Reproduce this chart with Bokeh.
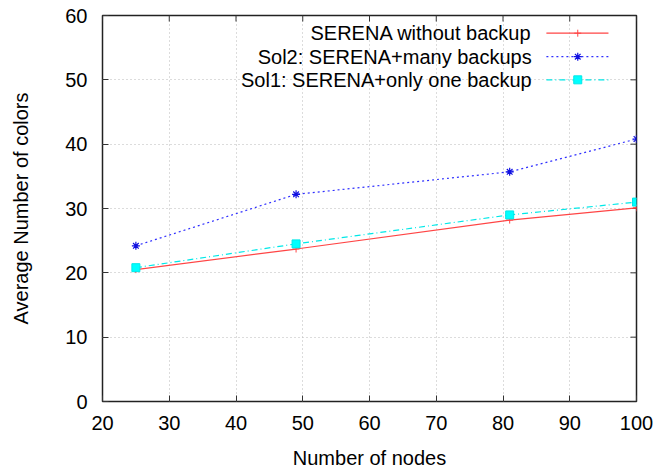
import math
from bokeh.plotting import figure
from bokeh.models import Range1d, FixedTicker
from bokeh.core.properties import value
from bokeh.embed import file_html
from bokeh.resources import INLINE

nodes = [25, 49, 81, 100]
serena = [20.5, 23.7, 28.2, 30.1]
sol2 = [24.2, 32.2, 35.7, 40.8]
sol1 = [20.8, 24.5, 29.0, 31.0]
x_ticks = [20, 30, 40, 50, 60, 70, 80, 90, 100]
y_ticks = [0, 10, 20, 30, 40, 50, 60]
labels = ["SERENA without backup", "Sol2: SERENA+many backups", "Sol1: SERENA+only one backup"]

FONT = "Liberation Sans"
FS = "20px"
X_MIN, X_MAX, Y_MIN, Y_MAX = 20, 100, 0, 60

p = figure(width=660, height=474, output_backend="svg", toolbar_location=None,
           x_range=Range1d(X_MIN, X_MAX), y_range=Range1d(Y_MIN, Y_MAX),
           min_border_left=102, min_border_right=24, min_border_top=15, min_border_bottom=73)
p.outline_line_color = "#222222"
p.outline_line_width = 1.5

for ax in [p.xaxis[0], p.yaxis[0]]:
    ax.axis_line_color = None
    ax.major_tick_in = 6
    ax.major_tick_out = 0
    ax.minor_tick_line_color = None
    ax.major_tick_line_color = "#333333"
    ax.major_tick_line_width = 1
    ax.major_label_text_font = FONT
    ax.major_label_text_font_size = FS
    ax.major_label_text_color = "black"
    ax.axis_label_text_font = FONT
    ax.axis_label_text_font_size = FS
    ax.axis_label_text_font_style = "normal"
    ax.axis_label_text_color = "black"

p.xaxis[0].ticker = FixedTicker(ticks=x_ticks)
p.yaxis[0].ticker = FixedTicker(ticks=y_ticks)
p.xaxis[0].axis_label = "Number of nodes"
p.yaxis[0].axis_label = "Average Number of colors"
p.xaxis[0].major_label_standoff = 14
p.yaxis[0].major_label_standoff = 15
p.xaxis[0].axis_label_standoff = 14
p.yaxis[0].axis_label_standoff = 30

p.xgrid.ticker = FixedTicker(ticks=x_ticks)
p.ygrid.ticker = FixedTicker(ticks=y_ticks)
for g in [p.xgrid[0], p.ygrid[0]]:
    g.grid_line_color = "#b8b8b8"
    g.grid_line_dash = "1 3"
    g.grid_line_width = 1

# mirrored ticks on top and right border (clipped to the frame, so only the inner half shows)
p.scatter(x_ticks, [Y_MAX] * len(x_ticks), marker="dash", angle=math.pi / 2, size=12,
          line_color="#333333", line_width=1)
p.scatter([X_MAX] * len(y_ticks), y_ticks, marker="dash", size=12,
          line_color="#333333", line_width=1)

# data
RED, BLUE, CYAN = "#ff4545", "#3030ff", "#00e8e8"
p.line(nodes, serena, line_color=RED, line_width=1.2)
p.scatter(nodes, serena, marker="cross", size=7, line_color=RED, line_width=1)
p.line(nodes, sol2, line_color=BLUE, line_width=1.2, line_dash="2 3")
p.scatter(nodes, sol2, marker="asterisk", size=8, line_color="#1010e0", line_width=1.2)
p.line(nodes, sol1, line_color=CYAN, line_width=1.2, line_dash="6 3 1 3")
p.scatter(nodes, sol1, marker="square", size=8, fill_color="#00ffff", line_color="#00e8e8")

# legend (gnuplot style: text right-aligned, sample on the right)
leg_y = [57.25, 53.6, 50.0]
p.text([84.3] * 3, leg_y, text=labels, text_align="right", text_baseline="middle",
       text_font=value(FONT), text_font_size=FS, text_color="black")
p.segment([86.5], [leg_y[0]], [95.8], [leg_y[0]], line_color=RED, line_width=1.2)
p.segment([86.5], [leg_y[1]], [95.8], [leg_y[1]], line_color=BLUE, line_width=1.2, line_dash="2 3")
p.segment([86.5], [leg_y[2]], [95.8], [leg_y[2]], line_color=CYAN, line_width=1.2, line_dash="6 3 1 3")
p.scatter([91.2], [leg_y[0]], marker="cross", size=7, line_color=RED)
p.scatter([91.2], [leg_y[1]], marker="asterisk", size=8, line_color="#1010e0", line_width=1.2)
p.scatter([91.2], [leg_y[2]], marker="square", size=8, fill_color="#00ffff", line_color="#00e8e8")

open("out.html", "w").write(file_html(p, INLINE))
